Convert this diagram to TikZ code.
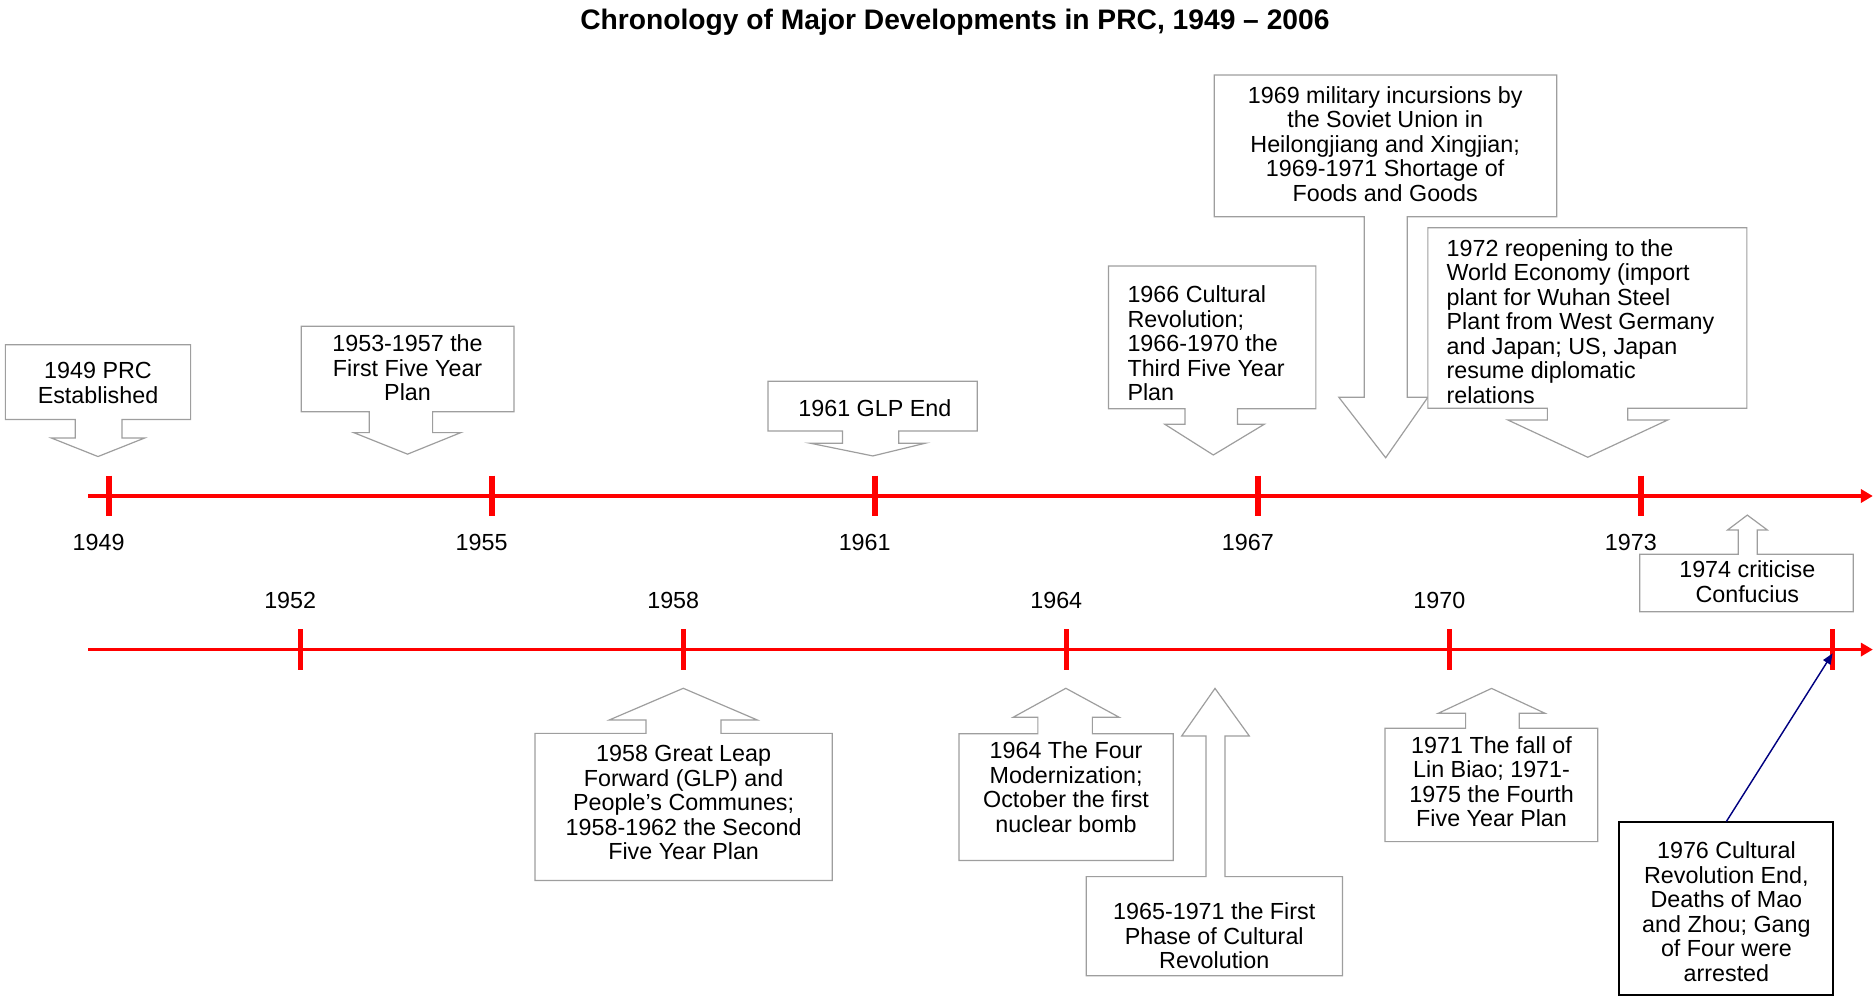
\documentclass[tikz,border=0pt]{standalone}
\usepackage{fontspec}
\setmainfont{Liberation Sans}
\usetikzlibrary{arrows.meta}
\definecolor{boxline}{gray}{0.62}
\definecolor{axisred}{RGB}{255,0,0}
\definecolor{pointer}{RGB}{0,0,128}
\begin{document}
\begin{tikzpicture}[x=0.5pt,y=-0.5pt,
  txt/.style={inner sep=0pt, font=\fontsize{9.75pt}{10.25pt}\selectfont, align=center},
  txtl/.style={inner sep=0pt, font=\fontsize{9.75pt}{10.25pt}\selectfont, align=left, anchor=west},
  callout/.style={draw=boxline, fill=white, line width=0.5pt, line join=miter},
  axis/.style={draw=axisred, line width=1.4pt, -{Triangle[length=5pt,width=5.5pt]}},
  tickmark/.style={draw=axisred, line width=2.3pt},
  yearlabel/.style={inner sep=0pt, font=\fontsize{9.75pt}{10.25pt}\selectfont},
  pointerarrow/.style={draw=pointer, line width=0.6pt, -{Triangle[length=4.5pt,width=3.6pt]}}]
\useasboundingbox (0,0) rectangle (1568,833.4);

% title
\node[inner sep=0pt, font=\fontsize{11.8pt}{13pt}\selectfont\bfseries] (title) at (799,18.5)
  {Chronology of Major Developments in PRC, 1949 -- 2006};

% timelines
\coordinate (ua) at (74,415);
\coordinate (ub) at (1567,415);
\coordinate (la) at (74,543.5);
\coordinate (lb) at (1567,543.5);
\draw[axis] (ua) -- (ub);
\draw[axis] (la) -- (lb);

% year ticks and labels
\foreach \x/\yr in {91/1949, 411.5/1955, 732/1961, 1052.6/1967, 1373/1973} {
  \coordinate (k\yr) at (\x,415);
  \draw[tickmark] ([yshift=8.5pt]k\yr) -- ([yshift=-8.5pt]k\yr);
  \node[yearlabel] (y\yr) at (\x-8.5,453.5) {\yr};
}
\foreach \x/\yr in {251.3/1952, 571.8/1958, 892.3/1964, 1212.8/1970} {
  \coordinate (k\yr) at (\x,543.5);
  \draw[tickmark] ([yshift=8.5pt]k\yr) -- ([yshift=-8.5pt]k\yr);
  \node[yearlabel] (y\yr) at (\x-8.5,502.5) {\yr};
}
\coordinate (k1976) at (1533.3,543.5);
\draw[tickmark] ([yshift=8.5pt]k1976) -- ([yshift=-8.5pt]k1976);

% callouts pointing down to the upper timeline
\draw[callout] (4.5,288.5) -- (159.5,288.5) -- (159.5,351) -- (102,351) -- (102,366.5)
  -- (121,366.5) -- (82,382) -- (43,366.5) -- (63,366.5) -- (63,351) -- (4.5,351) -- cycle;
\node[txt] (e1949) at (82,320.5) {1949 PRC\\Established};

\draw[callout] (252,273) -- (430,273) -- (430,344.5) -- (362,344.5) -- (362,362)
  -- (385.5,362) -- (341,380) -- (296,362) -- (309,362) -- (309,344.5) -- (252,344.5) -- cycle;
\node[txt] (e1953) at (341,308) {1953-1957 the\\First Five Year\\Plan};

\draw[callout] (642.6,319) -- (817.6,319) -- (817.6,360.6) -- (752,360.6) -- (752,370.8)
  -- (774.4,370.8) -- (730.3,381.5) -- (677.7,370.8) -- (705,370.8) -- (705,360.6) -- (642.6,360.6) -- cycle;
\node[txt] (e1961) at (732,341.5) {1961 GLP End};

\draw[callout] (927.5,222.6) -- (1101,222.6) -- (1101,342) -- (1035.4,342) -- (1035.4,355)
  -- (1057.8,355) -- (1015.2,380.7) -- (974.6,355) -- (991.5,355) -- (991.5,342) -- (927.5,342) -- cycle;
\node[txtl] (e1966) at (943,287.5) {1966 Cultural\\Revolution;\\1966-1970 the\\Third Five Year\\Plan};

\draw[callout] (1016,62.8) -- (1302.5,62.8) -- (1302.5,181.3) -- (1177.4,181.3) -- (1177.4,332.4)
  -- (1194.7,332.4) -- (1159.4,383) -- (1120.2,332.4) -- (1141.4,332.4) -- (1141.4,181.3) -- (1016,181.3) -- cycle;
\node[txt] (e1969) at (1159,120.5) {1969 military incursions by\\the Soviet Union in\\Heilongjiang and Xingjian;\\1969-1971 Shortage of\\Foods and Goods};

\draw[callout] (1194.7,190.5) -- (1461.6,190.5) -- (1461.6,341.6) -- (1362,341.6) -- (1362,351.4)
  -- (1395.4,351.4) -- (1328.5,382.6) -- (1261.6,351.4) -- (1294.7,351.4) -- (1294.7,341.6) -- (1194.7,341.6) -- cycle;
\node[txtl] (e1972) at (1210,269) {1972 reopening to the\\World Economy (import\\plant for Wuhan Steel\\Plant from West Germany\\and Japan; US, Japan\\resume diplomatic\\relations};

% callouts pointing up to a timeline
\draw[callout] (1372,511.8) -- (1550.6,511.8) -- (1550.6,463.8) -- (1470.3,463.8) -- (1470.3,443.4)
  -- (1478.7,443.4) -- (1462,431) -- (1445.5,443.4) -- (1454.4,443.4) -- (1454.4,463.8) -- (1372,463.8) -- cycle;
\node[txt] (e1974) at (1462,486.5) {1974 criticise\\Confucius};

\draw[callout] (447.6,736.8) -- (696.4,736.8) -- (696.4,613.6) -- (603.3,613.6) -- (603.3,602.4)
  -- (633.6,602.4) -- (571.7,575.9) -- (509.8,602.4) -- (540.5,602.4) -- (540.5,613.6) -- (447.6,613.6) -- cycle;
\node[txt] (e1958) at (572,671.5) {1958 Great Leap\\Forward (GLP) and\\People’s Communes;\\1958-1962 the Second\\Five Year Plan};

\draw[callout] (802.4,720) -- (981.7,720) -- (981.7,614) -- (914,614) -- (914,600.2)
  -- (936.5,600.2) -- (891.8,575.9) -- (847.6,600.2) -- (868.4,600.2) -- (868.4,614) -- (802.4,614) -- cycle;
\node[txt] (e1964) at (892,658.5) {1964 The Four\\Modernization;\\October the first\\nuclear bomb};

\draw[callout] (908.9,816.4) -- (1123.2,816.4) -- (1123.2,733.5) -- (1025,733.5) -- (1025,615.8)
  -- (1045.3,615.8) -- (1016.6,576) -- (988.7,615.8) -- (1009,615.8) -- (1009,733.5) -- (908.9,733.5) -- cycle;
\node[txt] (e1965) at (1016,783) {1965-1971 the First\\Phase of Cultural\\Revolution};

\draw[callout] (1158.8,704.2) -- (1336.8,704.2) -- (1336.8,609.4) -- (1271.2,609.4) -- (1271.2,596.8)
  -- (1292.7,596.8) -- (1248,576) -- (1203.4,596.8) -- (1226.3,596.8) -- (1226.3,609.4) -- (1158.8,609.4) -- cycle;
\node[txt] (e1971) at (1248,654) {1971 The fall of\\Lin Biao; 1971-\\1975 the Fourth\\Five Year Plan};

% 1976 box with its pointer
\node[draw=black, line width=0.8pt, fill=white, minimum width=89.5pt, minimum height=72.2pt] (e1976)
  at (1444.5,760.3) {};
\node[txt] (t1976) at (1444.5,763) {1976 Cultural\\Revolution End,\\Deaths of Mao\\and Zhou; Gang\\of Four were\\arrested};
\draw[pointerarrow] (e1976.north) -- ([yshift=-1.6pt]k1976);
\end{tikzpicture}
\end{document}
